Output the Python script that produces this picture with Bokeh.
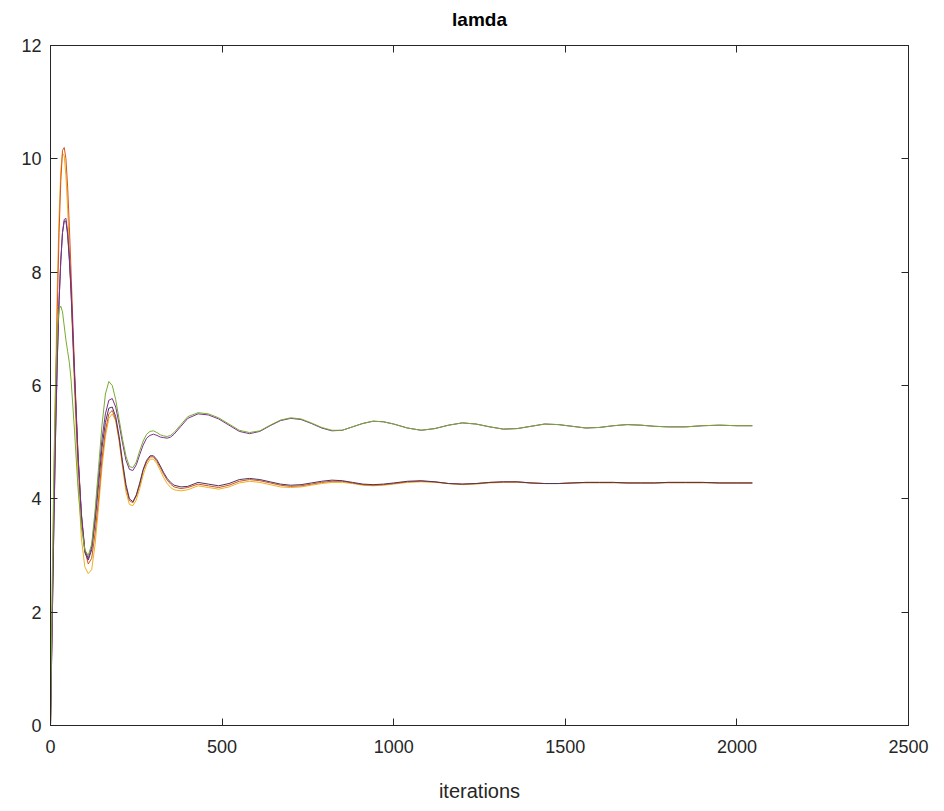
from bokeh.plotting import figure
from bokeh.models import Range1d, LinearAxis, FixedTicker, ColumnDataSource, CustomJSTickFormatter
from bokeh.embed import file_html
from bokeh.resources import INLINE

# iterations at which values were read (early phase, then late phase)
x_early = [0, 5, 10, 15, 20, 25, 30, 35, 40, 45, 50, 55, 60,
           70, 80, 90, 100, 110, 120, 130, 140, 150, 160,
           170, 180, 190, 200, 210, 220, 230, 240, 250, 260,
           270, 280, 290, 300, 310, 320, 330, 340, 350, 360,
           380, 400]
x_late = [430, 460, 490, 520, 550, 580, 610, 640, 670, 700,
          730, 760, 790, 820, 850, 880, 910, 940, 970, 1000,
          1040, 1080, 1120, 1160, 1200, 1240, 1280, 1320, 1360, 1400,
          1440, 1480, 1520, 1560, 1600, 1640, 1680, 1720, 1760, 1800,
          1850, 1900, 1950, 2000, 2045]

red_vals = [0, 2.0, 4.0, 5.8, 7.4, 8.7, 9.6, 10.15, 10.2, 10.0, 9.5, 8.8, 8.0,
            6.3, 4.8, 3.7, 3.1, 2.85, 2.95, 3.4, 4.0, 4.7, 5.2,
            5.5, 5.56, 5.4, 5.05, 4.6, 4.2, 3.97, 3.93, 4.05, 4.25,
            4.5, 4.65, 4.74, 4.74, 4.66, 4.55, 4.43, 4.33, 4.26, 4.21,
            4.18, 4.2,
            4.26, 4.23, 4.20, 4.24, 4.31, 4.34, 4.32, 4.28, 4.24, 4.22,
            4.23, 4.26, 4.29, 4.31, 4.31, 4.28, 4.25, 4.24, 4.25, 4.27,
            4.30, 4.31, 4.30, 4.27, 4.26, 4.27, 4.29, 4.30, 4.30, 4.28,
            4.27, 4.27, 4.28, 4.29, 4.29, 4.29, 4.28, 4.28, 4.28, 4.29,
            4.29, 4.29, 4.28, 4.28, 4.28]

yellow_vals = [0, 2.2, 4.3, 6.2, 7.8, 9.0, 9.8, 10.1, 10.05, 9.7, 9.1, 8.4, 7.6,
               5.9, 4.4, 3.3, 2.8, 2.68, 2.75, 3.2, 3.85, 4.55, 5.1,
               5.42, 5.5, 5.38, 5.02, 4.55, 4.12, 3.9, 3.88, 3.98, 4.18,
               4.42, 4.6, 4.7, 4.7, 4.62, 4.5, 4.37, 4.27, 4.2, 4.16,
               4.14, 4.16,
               4.23, 4.20, 4.17, 4.21, 4.28, 4.31, 4.29, 4.25, 4.21, 4.20,
               4.21, 4.24, 4.27, 4.29, 4.29, 4.27, 4.24, 4.23, 4.24, 4.26,
               4.29, 4.30, 4.29, 4.27, 4.25, 4.26, 4.28, 4.29, 4.29, 4.28,
               4.27, 4.27, 4.28, 4.28, 4.28, 4.28, 4.28, 4.28, 4.28, 4.28,
               4.28, 4.28, 4.28, 4.28, 4.28]

dark_vals = [0, 1.8, 3.6, 5.2, 6.5, 7.5, 8.2, 8.7, 8.9, 8.9, 8.65, 8.2, 7.65,
             6.15, 4.75, 3.7, 3.05, 2.92, 3.1, 3.6, 4.25, 4.9, 5.35,
             5.6, 5.62, 5.45, 5.1, 4.65, 4.25, 4.0, 3.95, 4.07, 4.28,
             4.52, 4.68, 4.76, 4.76, 4.69, 4.58, 4.46, 4.36, 4.29, 4.24,
             4.21, 4.22,
             4.29, 4.26, 4.23, 4.27, 4.34, 4.36, 4.34, 4.30, 4.26, 4.24,
             4.25, 4.28, 4.31, 4.33, 4.32, 4.29, 4.26, 4.25, 4.26, 4.28,
             4.31, 4.32, 4.30, 4.27, 4.26, 4.27, 4.29, 4.30, 4.30, 4.28,
             4.27, 4.27, 4.28, 4.29, 4.29, 4.29, 4.28, 4.28, 4.28, 4.29,
             4.29, 4.29, 4.28, 4.28, 4.28]

purple_vals = [0, 1.8, 3.6, 5.2, 6.5, 7.5, 8.2, 8.7, 8.93, 8.95, 8.7, 8.25, 7.7,
               6.2, 4.8, 3.75, 3.1, 2.95, 3.15, 3.7, 4.4, 5.05, 5.5,
               5.74, 5.77, 5.62, 5.32, 4.98, 4.68, 4.52, 4.5, 4.6, 4.78,
               4.95, 5.07, 5.12, 5.14, 5.12, 5.09, 5.08, 5.07, 5.09, 5.14,
               5.28, 5.42,
               5.50, 5.48, 5.41, 5.30, 5.19, 5.15, 5.19, 5.29, 5.38, 5.42,
               5.40, 5.33, 5.25, 5.20, 5.21, 5.27, 5.33, 5.37, 5.36, 5.32,
               5.25, 5.21, 5.24, 5.30, 5.34, 5.32, 5.27, 5.23, 5.24, 5.28,
               5.32, 5.31, 5.28, 5.25, 5.26, 5.29, 5.31, 5.30, 5.28, 5.27,
               5.27, 5.29, 5.30, 5.29, 5.29]

green_vals = [0, 2.5, 4.6, 6.1, 7.0, 7.35, 7.4, 7.3, 7.05, 6.8, 6.6, 6.4, 6.1,
              5.2, 4.2, 3.5, 3.1, 3.0, 3.2, 3.8, 4.55, 5.3, 5.85,
              6.07, 6.0, 5.75, 5.4, 5.05, 4.75, 4.57, 4.55, 4.65, 4.85,
              5.02, 5.14, 5.19, 5.2, 5.17, 5.13, 5.11, 5.10, 5.12, 5.17,
              5.31, 5.45,
              5.52, 5.50, 5.43, 5.32, 5.21, 5.17, 5.20, 5.30, 5.39, 5.43,
              5.41, 5.34, 5.26, 5.21, 5.21, 5.27, 5.33, 5.37, 5.36, 5.32,
              5.25, 5.21, 5.24, 5.30, 5.34, 5.32, 5.27, 5.23, 5.24, 5.28,
              5.32, 5.31, 5.28, 5.25, 5.26, 5.29, 5.31, 5.30, 5.28, 5.27,
              5.27, 5.29, 5.30, 5.29, 5.29]

x_ticks = [0, 500, 1000, 1500, 2000, 2500]
y_ticks = [0, 2, 4, 6, 8, 10, 12]
title_text = "lamda"

series = [
    ("yellow", yellow_vals, "#EDB120"),
    ("red", red_vals, "#D95319"),
    ("dark", dark_vals, "#4A3560"),
    ("purple", purple_vals, "#7E2F8E"),
    ("green", green_vals, "#77AC30"),
]

FONT = "Liberation Sans"
AX = "#262626"

p = figure(width=944, height=811, output_backend="svg", toolbar_location=None,
           x_range=Range1d(0, 2500), y_range=Range1d(0, 12),
           min_border_left=50, min_border_right=36, min_border_top=45,
           min_border_bottom=86)

p.grid.visible = False
p.outline_line_color = AX
p.outline_line_width = 1
p.background_fill_color = "white"
p.border_fill_color = "white"

x_all = x_early + x_late
for name, vals, col in series:
    src = ColumnDataSource(dict(x=x_all, y=vals))
    p.line("x", "y", source=src, line_color=col, line_width=1.0)

bottom = p.below[0]
left = p.left[0]
bottom.ticker = FixedTicker(ticks=x_ticks)
bottom.axis_label = "iterations"
left.ticker = FixedTicker(ticks=y_ticks)

blank = CustomJSTickFormatter(code="return '';")
top = LinearAxis(ticker=FixedTicker(ticks=x_ticks), formatter=blank, axis_label=title_text)
right = LinearAxis(ticker=FixedTicker(ticks=y_ticks), formatter=blank)
p.add_layout(top, "above")
p.add_layout(right, "right")

for ax in [bottom, left, top, right]:
    ax.major_tick_in = 7
    ax.major_tick_out = 0
    ax.minor_tick_in = 0
    ax.minor_tick_out = 0
    ax.axis_line_color = AX
    ax.major_tick_line_color = AX
    ax.major_label_text_font = FONT
    ax.major_label_text_font_size = "18px"
    ax.major_label_text_color = AX
    ax.axis_label_text_font = FONT
    ax.axis_label_text_font_size = "20px"
    ax.axis_label_text_font_style = "normal"
    ax.axis_label_text_color = AX

top.axis_label_text_font_style = "bold"
top.axis_label_text_font_size = "19px"
top.axis_label_text_color = "#000000"
top.axis_label_standoff = 16

bottom.major_label_standoff = 14
bottom.axis_label_standoff = 24
left.major_label_standoff = 9
top.major_label_standoff = 0
right.major_label_standoff = 0

open("out.html", "w").write(file_html(p, INLINE))
